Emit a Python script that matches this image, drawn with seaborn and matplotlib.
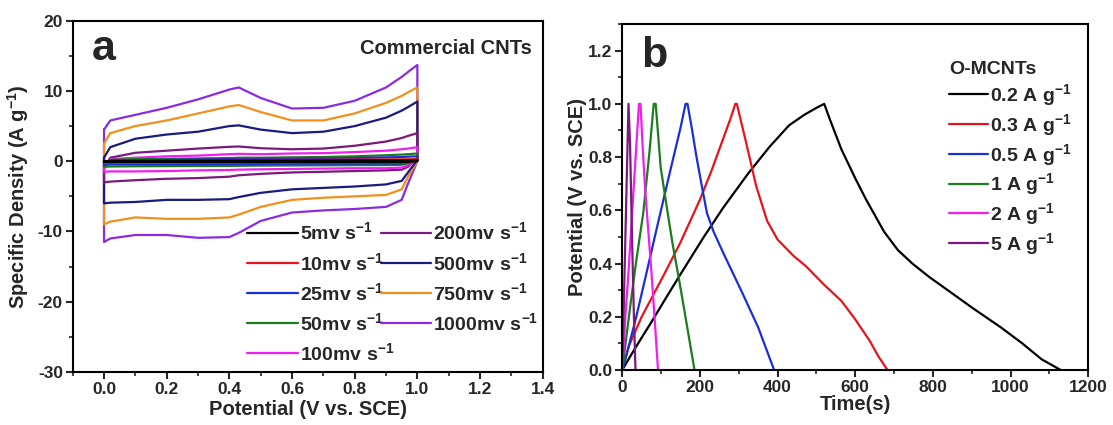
import numpy as np
import pandas as pd
import seaborn as sns
import matplotlib.pyplot as plt
from matplotlib.ticker import MultipleLocator

# ---------- panel a: CV curves of commercial CNTs ----------
cv_rates = ['5mv s$^{-1}$', '10mv s$^{-1}$', '25mv s$^{-1}$', '50mv s$^{-1}$', '100mv s$^{-1}$',
            '200mv s$^{-1}$', '500mv s$^{-1}$', '750mv s$^{-1}$', '1000mv s$^{-1}$']
cv_colors = ['#000000', '#e8141c', '#1a2fd8', '#1c7d1c', '#f01ef0',
             '#7a1a7a', '#1a1a80', '#f0901e', '#8a2be2']
potential = [0.0, 0.02, 0.1, 0.2, 0.3, 0.4, 0.43, 0.5, 0.6, 0.7, 0.8, 0.9, 0.95, 0.97, 1.0]

# anodic (upper) branch, one list per scan rate
cv_upper = [
    [-0.05, 0.05, 0.06, 0.07, 0.08, 0.09, 0.09, 0.09, 0.09, 0.1, 0.11, 0.12, 0.13, 0.14, 0.15],
    [-0.1, 0.12, 0.14, 0.15, 0.17, 0.18, 0.19, 0.19, 0.2, 0.21, 0.23, 0.25, 0.27, 0.28, 0.3],
    [-0.2, 0.1, 0.15, 0.2, 0.25, 0.3, 0.3, 0.32, 0.35, 0.4, 0.45, 0.55, 0.6, 0.65, 0.7],
    [-0.3, 0.2, 0.3, 0.35, 0.4, 0.45, 0.5, 0.5, 0.55, 0.6, 0.7, 0.85, 0.95, 1.0, 1.1],
    [-0.5, 0.3, 0.5, 0.7, 0.8, 1.0, 1.05, 1.0, 1.1, 1.15, 1.3, 1.5, 1.7, 1.8, 2.0],
    [-1.0, 0.5, 1.2, 1.5, 1.8, 2.05, 2.1, 1.85, 1.7, 1.8, 2.2, 2.8, 3.3, 3.6, 4.0],
    [0.5, 2.0, 3.2, 3.8, 4.2, 5.0, 5.1, 4.5, 4.0, 4.2, 5.0, 6.2, 7.2, 7.7, 8.5],
    [2.5, 4.0, 5.0, 5.8, 6.8, 7.8, 8.0, 7.0, 5.8, 5.8, 6.8, 8.3, 9.3, 9.8, 10.5],
    [4.5, 5.8, 6.6, 7.6, 8.8, 10.2, 10.5, 9.0, 7.5, 7.6, 8.6, 10.5, 12.0, 12.7, 13.7],
]
# cathodic (lower) branch, same potentials
cv_lower = [
    [-0.1, -0.1, -0.1, -0.1, -0.1, -0.1, -0.1, -0.1, -0.1, -0.1, -0.1, -0.1, -0.1, -0.08, 0.0],
    [-0.25, -0.22, -0.2, -0.2, -0.2, -0.2, -0.2, -0.18, -0.18, -0.17, -0.17, -0.16, -0.15, -0.1, 0.05],
    [-0.5, -0.45, -0.45, -0.45, -0.42, -0.42, -0.4, -0.38, -0.36, -0.35, -0.34, -0.33, -0.3, -0.2, 0.1],
    [-0.8, -0.75, -0.72, -0.7, -0.68, -0.66, -0.65, -0.62, -0.6, -0.58, -0.56, -0.55, -0.5, -0.3, 0.2],
    [-1.5, -1.45, -1.45, -1.4, -1.3, -1.25, -1.2, -1.15, -1.1, -1.05, -1.0, -1.0, -0.9, -0.6, 0.3],
    [-3.0, -2.9, -2.7, -2.5, -2.4, -2.2, -2.0, -1.8, -1.6, -1.5, -1.4, -1.3, -1.2, -0.8, 0.5],
    [-6.0, -5.9, -5.8, -5.5, -5.5, -5.4, -5.1, -4.5, -4.0, -3.8, -3.6, -3.3, -2.8, -1.6, 0.2],
    [-9.0, -8.6, -8.0, -8.2, -8.2, -8.0, -7.6, -6.5, -5.5, -5.2, -5.0, -4.8, -4.0, -2.2, 0.0],
    [-11.5, -11.0, -10.5, -10.5, -10.9, -10.8, -10.2, -8.5, -7.3, -7.0, -6.8, -6.5, -5.5, -3.2, 0.0],
]

# ---------- panel b: GCD curves of O-MCNTs ----------
gcd_labels = ['0.2 A g$^{-1}$', '0.3 A g$^{-1}$', '0.5 A g$^{-1}$', '1 A g$^{-1}$', '2 A g$^{-1}$', '5 A g$^{-1}$']
gcd_colors = ['#000000', '#e8141c', '#1a2fd8', '#1c7d1c', '#f01ef0', '#7a1a7a']
gcd_time = [
    [0, 20, 45, 75, 108, 150, 210, 260, 325, 380, 430, 470, 500, 520,
     535, 564, 600, 628, 674, 710, 747, 790, 838, 900, 975, 1030, 1080, 1129],
    [0, 17, 50, 108, 150, 200, 230, 260, 280, 291,
     295, 318, 345, 373, 400, 440, 473, 520, 564, 600, 637, 660, 683],
    [0, 15, 36, 60, 90, 127, 150, 163, 168, 180, 190, 205, 218, 235, 260, 309, 350, 391],
    [0, 17, 35, 54, 70, 81, 86, 99, 118, 130, 145, 165, 186],
    [0, 8, 17, 30, 43, 47, 52, 58, 66, 74, 83, 92],
    [0, 8, 16, 20, 25, 30, 34],
]
gcd_volt = [
    [0, 0.05, 0.11, 0.18, 0.26, 0.36, 0.50, 0.61, 0.74, 0.84, 0.92, 0.96, 0.985, 1.0,
     0.94, 0.83, 0.72, 0.64, 0.52, 0.45, 0.40, 0.35, 0.30, 0.235, 0.16, 0.10, 0.04, 0.0],
    [0, 0.09, 0.20, 0.36, 0.48, 0.64, 0.75, 0.87, 0.95, 1.0,
     1.0, 0.86, 0.69, 0.56, 0.49, 0.43, 0.39, 0.32, 0.26, 0.19, 0.11, 0.05, 0.0],
    [0, 0.08, 0.20, 0.35, 0.54, 0.77, 0.91, 1.0, 1.0, 0.90, 0.81, 0.69, 0.59, 0.52, 0.44, 0.29, 0.16, 0.0],
    [0, 0.20, 0.40, 0.59, 0.82, 1.0, 1.0, 0.76, 0.58, 0.47, 0.35, 0.18, 0.0],
    [0, 0.20, 0.39, 0.70, 1.0, 1.0, 0.85, 0.70, 0.54, 0.39, 0.20, 0.0],
    [0, 0.50, 1.0, 0.85, 0.50, 0.20, 0.0],
]

sns.set_style('ticks')
plt.rcParams['font.family'] = ['Liberation Sans', 'DejaVu Sans']
plt.rcParams['font.weight'] = 'bold'
plt.rcParams['axes.labelweight'] = 'bold'
plt.rcParams['axes.unicode_minus'] = False
plt.rcParams['mathtext.fontset'] = 'custom'
plt.rcParams['mathtext.bf'] = 'Liberation Sans:bold'
plt.rcParams['mathtext.rm'] = 'Liberation Sans:bold'
plt.rcParams['mathtext.default'] = 'bf'

fig = plt.figure(figsize=(11.13, 4.25), dpi=100)
ax1 = fig.add_axes([0.0653, 0.1247, 0.4223, 0.8266])
ax2 = fig.add_axes([0.5591, 0.1294, 0.4187, 0.8141])

# closed CV loops: upper sweep forward, lower sweep back
rows = []
for lab, up, lo in zip(cv_rates, cv_upper, cv_lower):
    xs = potential + potential[::-1] + [potential[0]]
    ys = up + lo[::-1] + [up[0]]
    for i, (x, y) in enumerate(zip(xs, ys)):
        rows.append({'rate': lab, 'order': i, 'E': x, 'j': y})
cv_df = pd.DataFrame(rows)

# draw fast scans first so slow ones sit on top
for lab, col in list(zip(cv_rates, cv_colors))[::-1]:
    sns.lineplot(data=cv_df[cv_df['rate'] == lab], x='E', y='j', sort=False, estimator=None,
                 color=col, lw=1.6, label=lab, ax=ax1)

handles, labels = ax1.get_legend_handles_labels()
order = [labels.index(l) for l in cv_rates]
ax1.legend([handles[i] for i in order], [labels[i] for i in order], ncol=2, frameon=False,
           loc='upper left', bbox_to_anchor=(0.355, 0.45), fontsize=14, handlelength=2.6,
           handletextpad=0.1, columnspacing=-0.7, labelspacing=0.42, borderaxespad=0)

ax1.set_xlim(-0.1, 1.4)
ax1.set_ylim(-30, 20)
ax1.xaxis.set_major_locator(MultipleLocator(0.2))
ax1.xaxis.set_minor_locator(MultipleLocator(0.1))
ax1.yaxis.set_major_locator(MultipleLocator(10))
ax1.yaxis.set_minor_locator(MultipleLocator(5))
ax1.xaxis.set_major_formatter(plt.FormatStrFormatter('%.1f'))
ax1.set_xlabel('Potential (V vs. SCE)', fontsize=14.5, labelpad=2)
ax1.set_ylabel('Specific Density (A g$^{-1}$)', fontsize=14.5, labelpad=5)
ax1.text(0.04, 0.888, 'a', transform=ax1.transAxes, fontsize=31, fontweight='bold', va='baseline')
ax1.text(0.977, 0.922, 'Commercial CNTs', transform=ax1.transAxes, fontsize=14.5,
         fontweight='bold', ha='right', va='center')

rows = []
for lab, t, v in zip(gcd_labels, gcd_time, gcd_volt):
    for i, (x, y) in enumerate(zip(t, v)):
        rows.append({'rate': lab, 'order': i, 't': x, 'V': y})
gcd_df = pd.DataFrame(rows)
sns.lineplot(data=gcd_df, x='t', y='V', hue='rate', palette=dict(zip(gcd_labels, gcd_colors)),
             sort=False, estimator=None, lw=1.6, ax=ax2)
leg = ax2.legend(title='O-MCNTs', frameon=False, loc='upper left', bbox_to_anchor=(0.685, 0.915),
                 fontsize=14, title_fontsize=14, handlelength=2.0, handletextpad=0.1,
                 labelspacing=0.2, borderaxespad=0, alignment='left')
leg.get_title().set_fontweight('bold')

ax2.set_xlim(0, 1200)
ax2.set_ylim(0, 1.3)
ax2.xaxis.set_major_locator(MultipleLocator(200))
ax2.xaxis.set_minor_locator(MultipleLocator(100))
ax2.yaxis.set_major_locator(MultipleLocator(0.2))
ax2.yaxis.set_minor_locator(MultipleLocator(0.1))
ax2.yaxis.set_major_formatter(plt.FormatStrFormatter('%.1f'))
ax2.set_xlabel('Time(s)', fontsize=14.5, labelpad=0)
ax2.set_ylabel('Potential (V vs. SCE)', fontsize=14.5, labelpad=1)
ax2.text(0.04, 0.876, 'b', transform=ax2.transAxes, fontsize=31, fontweight='bold', va='baseline')

for ax in (ax1, ax2):
    for s in ax.spines.values():
        s.set_linewidth(1.5)
        s.set_color('black')
    ax.tick_params(which='major', direction='out', length=5, width=1.5, labelsize=12.5,
                   top=False, right=False, pad=2)
    ax.tick_params(which='minor', direction='out', length=3, width=1.2, top=False, right=False)
    for t in ax.get_xticklabels() + ax.get_yticklabels():
        t.set_fontweight('bold')

fig.savefig('out.png', dpi=100)
